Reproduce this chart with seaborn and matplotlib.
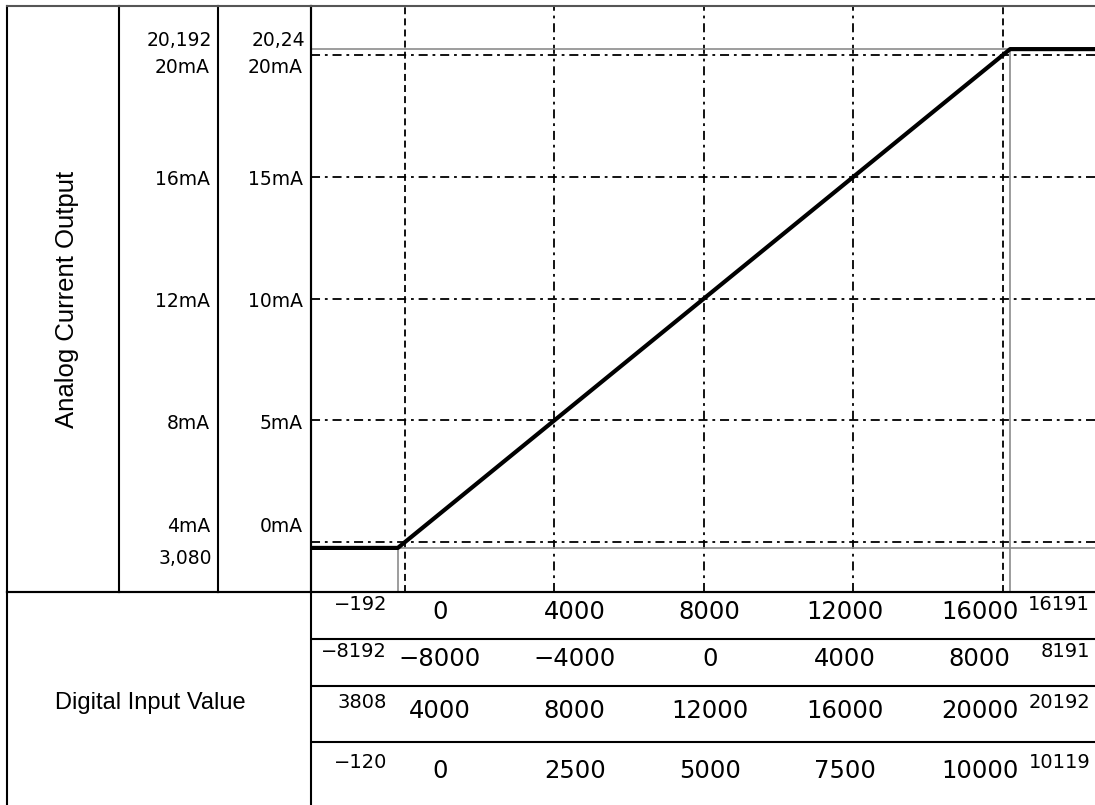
import matplotlib
matplotlib.use("Agg")
import matplotlib.pyplot as plt
import seaborn as sns

# ---------------- data ----------------
digital_ticks = [0, 4000, 8000, 12000, 16000]      # digital input gridlines
current_ticks = [0, 5, 10, 15, 20]                 # output gridlines (0-20 mA scale)
clamp_digital = [-192, 16191]                      # saturation points (digital)
clamp_current = [-0.24, 20.24]                     # saturation points (mA, 0-20 scale)

labels_4_20 = ["4mA", "8mA", "12mA", "16mA", "20mA"]
labels_0_20 = ["0mA", "5mA", "10mA", "15mA", "20mA"]
clamp_labels_4_20 = ["3,080", "20,192"]
clamp_labels_0_20 = ["", "20,24"]

row1 = ["0", "4000", "8000", "12000", "16000"]
row2 = ["\u22128000", "\u22124000", "0", "4000", "8000"]
row3 = ["4000", "8000", "12000", "16000", "20000"]
row4 = ["0", "2500", "5000", "7500", "10000"]
row1_edges = ["\u2212192", "16191"]
row2_edges = ["\u22128192", "8191"]
row3_edges = ["3808", "20192"]
row4_edges = ["\u2212120", "10119"]

axis_title_y = "Analog Current Output"
axis_title_x = "Digital Input Value"

# ---------------- style ----------------
sns.set_theme(style="white")
plt.rcParams["font.family"] = ["DejaVu Sans"]
plt.rcParams["lines.scale_dashes"] = False
plt.rcParams["text.color"] = "black"

W, H = 1095, 805
fig = plt.figure(figsize=(W / 100, H / 100), dpi=100)
fig.patch.set_facecolor("white")


def frac(x0, y0, x1, y1):
    return [x0 / W, 1 - y1 / H, (x1 - x0) / W, (y1 - y0) / H]


BLACK_LW = 1.5
TOP_COLOR = "#555555"
XLIM = (-2515, 18462)
YLIM = (-2.05, 22.01)


def set_spines(ax, left=False, right=False, top=False, bottom=False, outer_top=False):
    for name, on in (("left", left), ("right", right), ("top", top), ("bottom", bottom)):
        sp = ax.spines[name]
        sp.set_visible(on)
        sp.set_linewidth(BLACK_LW)
        sp.set_color("black")
    if outer_top:
        ax.spines["top"].set_color(TOP_COLOR)
    ax.set_xticks([])
    ax.set_yticks([])
    ax.set_facecolor("none")


# ---------------- main plot ----------------
ax = fig.add_axes(frac(311, 6, 1095, 592))
set_spines(ax, left=True, top=True, bottom=True, outer_top=True)
ax.set_xlim(*XLIM)
ax.set_ylim(*YLIM)

dashdot = (0, (6.5, 3.5, 2.0, 3.5))
dashed = (0, (5.0, 3.0))
for i, v in enumerate(digital_ticks):
    ls = dashed if i in (0, len(digital_ticks) - 1) else dashdot
    ax.axvline(v, color="black", lw=1.3, ls=ls, zorder=1)
for v in current_ticks:
    ax.axhline(v, color="black", lw=1.3, ls=dashdot, zorder=1)

gray = "#8c8c8c"
ax.axhline(clamp_current[0], color=gray, lw=1.2, zorder=1)
ax.axhline(clamp_current[1], color=gray, lw=1.2, zorder=1)
ax.vlines(clamp_digital[0], YLIM[0], clamp_current[0], color=gray, lw=1.2, zorder=1)
ax.vlines(clamp_digital[1], YLIM[0], clamp_current[1], color=gray, lw=1.2, zorder=1)

curve_x = [XLIM[0], clamp_digital[0], clamp_digital[1], XLIM[1]]
curve_y = [clamp_current[0], clamp_current[0], clamp_current[1], clamp_current[1]]
sns.lineplot(x=curve_x, y=curve_y, ax=ax, color="black", linewidth=3.0,
             sort=False, zorder=3)
ax.set_xlim(*XLIM)
ax.set_ylim(*YLIM)
ax.set_xlabel("")
ax.set_ylabel("")
ax.set_xticks([])
ax.set_yticks([])

# ---------------- left label columns ----------------
ax_c1 = fig.add_axes(frac(7, 6, 119, 592))
set_spines(ax_c1, left=True, right=True, top=True, bottom=True, outer_top=True)
ax_c1.text(0.54, 0.5, axis_title_y, rotation=90, ha="center", va="center",
           fontsize=18.5, family="Liberation Sans", color="black",
           transform=ax_c1.transAxes)

num_font = dict(family="DejaVu Sans", color="black")


def label_column(axc, labels, clamp_labels):
    axc.set_ylim(*YLIM)
    axc.set_xlim(0, 1)
    n = len(current_ticks)
    for i, (v, lab) in enumerate(zip(current_ticks, labels)):
        if i == 0:
            dy = 16
        elif i == n - 1:
            dy = -13
        else:
            dy = -3
        axc.annotate(lab, xy=(1, v), xycoords=("axes fraction", "data"),
                     xytext=(-8, dy), textcoords="offset pixels",
                     ha="right", va="center", fontsize=13.5, **num_font)
    for v, lab, dy in zip(clamp_current, clamp_labels, (-11, 9)):
        if lab:
            axc.annotate(lab, xy=(1, v), xycoords=("axes fraction", "data"),
                         xytext=(-6, dy), textcoords="offset pixels",
                         ha="right", va="center", fontsize=13.5, **num_font)


ax_c2 = fig.add_axes(frac(119, 6, 218, 592))
set_spines(ax_c2, right=True, top=True, bottom=True, outer_top=True)
label_column(ax_c2, labels_4_20, clamp_labels_4_20)

ax_c3 = fig.add_axes(frac(218, 6, 311, 592))
set_spines(ax_c3, right=True, top=True, bottom=True, outer_top=True)
label_column(ax_c3, labels_0_20, clamp_labels_0_20)

# ---------------- bottom-left title cell ----------------
ax_d = fig.add_axes(frac(7, 592, 311, 810))
set_spines(ax_d, left=True, right=True, top=True)
ax_d.text(0.47, 0.49, axis_title_x, ha="center", va="center", fontsize=17,
          family="Liberation Sans", color="black", transform=ax_d.transAxes)

# ---------------- bottom value table ----------------
ax_t = fig.add_axes(frac(311, 592, 1095, 810))
set_spines(ax_t, top=True)
ax_t.set_xlim(-0.955, 4.856)
ax_t.set_ylim(218, 0)
for yb in (47.3, 93.7, 149.7):
    ax_t.axhline(yb, color="black", lw=BLACK_LW)

rows = [row1, row2, row3, row4]
edges = [row1_edges, row2_edges, row3_edges, row4_edges]
main_y = [20, 67, 118.7, 178.7]
small_y = [13, 59.7, 111, 171]
for r, (vals, ed) in enumerate(zip(rows, edges)):
    for i, lab in enumerate(vals):
        ax_t.text(i, main_y[r], lab, ha="center", va="center", fontsize=17.5, **num_font)
    ax_t.text(-0.392, small_y[r], ed[0], ha="right", va="center", fontsize=14, **num_font)
    ax_t.text(4.82, small_y[r], ed[1], ha="right", va="center", fontsize=14, **num_font)

fig.savefig("out.png", dpi=100, facecolor="white")
